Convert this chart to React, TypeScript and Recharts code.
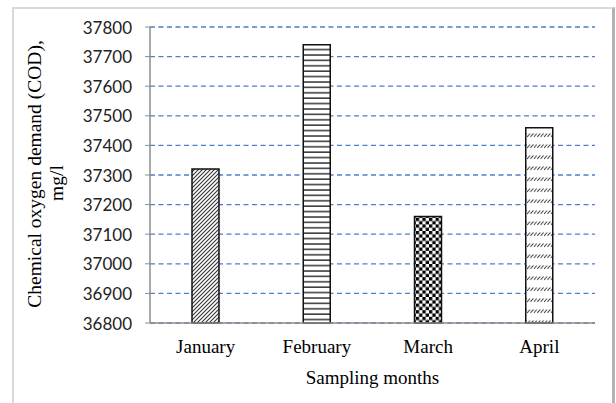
import React from "react";
import { BarChart, Bar, XAxis, YAxis, CartesianGrid, Cell } from "recharts";

const months = ["January", "February", "March", "April"];
const codValues = [37320, 37740, 37160, 37460];
const yTicks = [36800, 36900, 37000, 37100, 37200, 37300, 37400, 37500, 37600, 37700, 37800];
const patternIds = ["patDiag", "patHoriz", "patChecker", "patDashDiag"];

const data = months.map((m, i) => ({ month: m, cod: codValues[i] }));

const SERIF = '"Liberation Serif", "Times New Roman", serif';
const SANS = 'Lato, "Open Sans", sans-serif';

const XTick = (props: any) => {
  const { x, payload } = props;
  return (
    <text x={x} y={346} textAnchor="middle" dominantBaseline="central" fontFamily={SERIF} fontSize={19} fill="#000">
      {payload.value}
    </text>
  );
};

const YTick = (props: any) => {
  const { y, payload } = props;
  return (
    <text x={132} y={y} textAnchor="end" dominantBaseline="central" fontFamily={SANS} fontSize={17} fill="#222">
      {payload.value}
    </text>
  );
};

export default function App() {
  return (
    <div style={{ position: "fixed", left: 0, top: 0, width: 616, height: 403, background: "#fff", overflow: "hidden" }}>
      <div
        style={{
          position: "absolute",
          left: 12,
          top: 7,
          width: 603,
          height: 420,
          boxSizing: "border-box",
          borderLeft: "2px solid #d9d9d9",
          borderTop: "2px solid #d9d9d9",
          borderRight: "3px solid #b3b3b3",
        }}
      />
      <div style={{ position: "absolute", left: 0, top: 0 }}>
        <BarChart width={616} height={403} data={data} margin={{ top: 27, right: 21, bottom: 0, left: 0 }}>
          <defs>
            <pattern id="patDiag" width="4" height="4" patternUnits="userSpaceOnUse">
              <rect width="4" height="4" fill="#fff" />
              <path d="M-1,1 L1,-1 M0,4 L4,0 M3,5 L5,3" stroke="#333" strokeWidth="1.1" />
            </pattern>
            <pattern id="patHoriz" width="4" height="5.4" patternUnits="userSpaceOnUse">
              <rect width="4" height="5.4" fill="#fff" />
              <line x1="0" y1="1" x2="4" y2="1" stroke="#333" strokeWidth="1.5" />
            </pattern>
            <pattern id="patChecker" width="6.6" height="6.6" patternUnits="userSpaceOnUse">
              <rect width="6.6" height="6.6" fill="#fff" />
              <rect x="0" y="0" width="3.3" height="3.3" fill="#000" />
              <rect x="3.3" y="3.3" width="3.3" height="3.3" fill="#000" />
            </pattern>
            <pattern id="patDashDiag" width="3.4" height="11" patternUnits="userSpaceOnUse">
              <rect width="3.4" height="11" fill="#fff" />
              <line x1="0" y1="5" x2="3" y2="1.5" stroke="#333" strokeWidth="1" />
            </pattern>
          </defs>
          <CartesianGrid vertical={false} stroke="#4a80cc" strokeWidth={1.3} strokeDasharray="5 3.5" />
          <XAxis
            dataKey="month"
            height={80}
            axisLine={{ stroke: "#8c8c8c", strokeWidth: 1.5 }}
            tickLine={false}
            tick={<XTick />}
            interval={0}
            label={{
              content: (p: any) => {
                const vb = p.viewBox;
                return (
                  <text x={vb.x + vb.width / 2} y={377} textAnchor="middle" dominantBaseline="central" fontFamily={SERIF} fontSize={19} fill="#000">
                    Sampling months
                  </text>
                );
              },
            }}
          />
          <YAxis
            width={150}
            domain={[36800, 37800]}
            ticks={yTicks}
            interval={0}
            axisLine={{ stroke: "#8c8c8c", strokeWidth: 1.5 }}
            tickLine={{ stroke: "#8c8c8c" }}
            tickSize={5}
            tick={<YTick />}
            label={{
              content: () => (
                <g>
                  <text transform="translate(34,174) rotate(-90)" textAnchor="middle" dominantBaseline="central" fontFamily={SERIF} fontSize={19.5} fill="#000">
                    Chemical oxygen demand (COD),
                  </text>
                  <text transform="translate(56,183) rotate(-90)" textAnchor="middle" dominantBaseline="central" fontFamily={SERIF} fontSize={19.5} fill="#000">
                    mg/l
                  </text>
                </g>
              ),
            }}
          />
          <Bar dataKey="cod" barSize={27} stroke="#111" strokeWidth={1.5} isAnimationActive={false}>
            {data.map((d, i) => (
              <Cell key={d.month} fill={`url(#${patternIds[i]})`} />
            ))}
          </Bar>
        </BarChart>
      </div>
    </div>
  );
}
